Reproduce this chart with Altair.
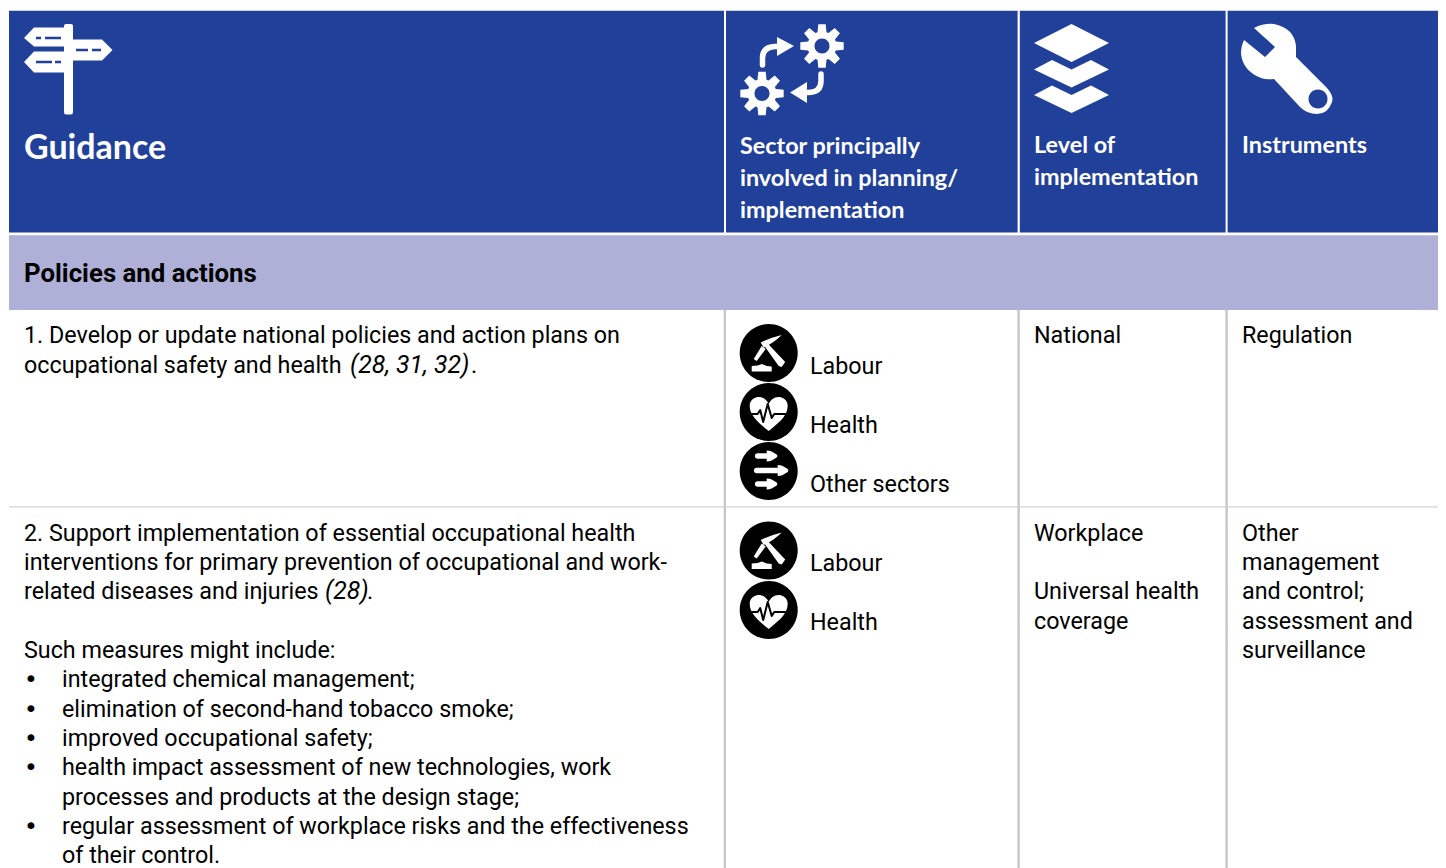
import math
import altair as alt
import pandas as pd

BLUE = "#21409A"
LAV = "#AEB0D8"
GREY = "#C6C6C6"
BLK = "#000000"
WHT = "#FFFFFF"
RIGHT = 1438

# ---------- table frame: x0, x1, y0, y1, fill ----------
cells = [
    (9, 724, 10.7, 232.6, BLUE), (726, 1017.6, 10.7, 232.6, BLUE),
    (1019.8, 1225.6, 10.7, 232.6, BLUE), (1227.6, RIGHT, 10.7, 232.6, BLUE),
    (9, RIGHT, 235.3, 310, LAV),
    (723.7, 726, 310, 868, GREY), (1017.4, 1019.8, 310, 868, GREY),
    (1225.4, 1227.8, 310, 868, GREY), (9, RIGHT, 506.2, 507.6, "#D2D2D2"),
]
rects = pd.DataFrame(cells, columns=["x", "x2", "y", "y2", "fill"])

# ---------- text: x, baseline, text ----------
body_lines = [
    (24, 343, "1. Develop or update national policies and action plans on"),
    (24, 373, "occupational safety and health"),
    (471, 373, "."),
    (24, 541, "2. Support implementation of essential occupational health"),
    (24, 570, "interventions for primary prevention of occupational and work-"),
    (24, 599, "related diseases and injuries"),
    (367, 599, "."),
    (24, 658, "Such measures might include:"),
    (62, 687, "integrated chemical management;"),
    (62, 717, "elimination of second-hand tobacco smoke;"),
    (62, 746, "improved occupational safety;"),
    (62, 775, "health impact assessment of new technologies, work"),
    (62, 805, "processes and products at the design stage;"),
    (62, 834, "regular assessment of workplace risks and the effectiveness"),
    (62, 863, "of their control."),
    (810, 374, "Labour"), (810, 433, "Health"), (810, 492, "Other sectors"),
    (810, 571, "Labour"), (810, 630, "Health"),
    (1034, 343, "National"), (1242, 343, "Regulation"),
    (1034, 541, "Workplace"), (1034, 599, "Universal health"), (1034, 629, "coverage"),
    (1242, 541, "Other"), (1242, 570, "management"), (1242, 599, "and control;"),
    (1242, 629, "assessment and"), (1242, 658, "surveillance"),
]
bullet_lines = [(24, 687, "•"), (24, 717, "•"), (24, 746, "•"), (24, 775, "•"), (24, 834, "•")]
italic_lines = [(350, 373, "(28, 31, 32)"), (325, 599, "(28)")]
bold_lines = [(24, 282, "Policies and actions")]
head_big = [(24, 159, "Guidance")]
head_lines = [
    (740, 154, "Sector principally"), (740, 186, "involved in planning/"),
    (740, 218, "implementation"), (1034, 153, "Level of"),
    (1034, 185, "implementation"), (1242, 153, "Instruments"),
]


# ---------- pictogram outlines, in pixels around an anchor ----------
def poly(pts):
    return "M" + "L".join(f"{a:.2f},{b:.2f}" for a, b in pts) + "Z"


def disc(r):
    return f"M{-r},0A{r},{r} 0 1 1 {r},0A{r},{r} 0 1 1 {-r},0Z"


def gear(ro, ri, n=8):
    pts = []
    step = 2 * math.pi / n
    for k in range(n):
        c = -math.pi / 2 + k * step
        for r, d in ((ri, -0.5), (ro, -0.27), (ro, 0.27), (ri, 0.5)):
            pts.append((r * math.cos(c + d * step * 0.8), r * math.sin(c + d * step * 0.8)))
    return poly(pts)


SIGN_A = poly([(24, 38), (34, 27.5), (66, 27.5), (66, 46.5), (34, 46.5)])
SIGN_B = poly([(70, 39.5), (102, 39.5), (112.5, 50), (102, 60.5), (70, 60.5)])
SIGN_C = poly([(24, 62), (34, 51.5), (66, 51.5), (66, 72.5), (34, 72.5)])
POST = "M64,26Q64,24 66,24L71,24Q73,24 73,26L73,112Q73,114.5 71,114.5L66,114.5Q64,114.5 64,112Z"
SIGN_CUTS = "".join(
    poly([(a, y - 1.2), (b, y - 1.2), (b, y + 1.2), (a, y + 1.2)])
    for a, b, y in [(36, 41, 38), (45, 61, 38), (76, 88, 50), (92, 101, 50), (36, 52, 62), (55, 61, 62)]
)

DIAMOND = poly([(0, -19), (37.5, 0), (0, 19), (-37.5, 0)])
CHEVRON = poly([(-37.5, 0), (-19.5, -9.5), (0, 0), (19.5, -9.5), (37.5, 0), (0, 18)])
WRENCH = ("M1254,28Q1264,23 1274,24Q1294,28 1296,46L1296,57L1327,88Q1334,96 1332,102"
          "Q1328,114 1317,114Q1307,114 1300,107L1274,79Q1266,80 1261,78Q1243,71 1241,54"
          "Q1241,46 1244,40L1265,57L1275,47Z")
PICK_HEAD = "M13,-18Q2,-15.5 -8,-10.5L-5,-5.5Q5,-10 13,-18Z"
PICK_HANDLE = poly([(-5, -8), (-1, -9.5), (16.5, 9), (13, 14), (10, 13)])
PICK_LEG = poly([(-7, -7), (-3, -4), (-12, 8), (-15, 6)])
PICK_FOOT = poly([(-17, 13), (-11, 12.5), (-7, 11), (-2, 13), (3, 13.5), (3, 18.5), (-17, 18.5)])
HEART = ("M0,19C-7,13 -19,5 -19,-6C-19,-13 -13,-15 -10,-15C-5,-15 -2,-12 0,-8"
         "C2,-12 5,-15 10,-15C13,-15 19,-13 19,-6C19,5 7,13 0,19Z")
ECG = "M-18,2L-11,2L-8.5,-2L-5.5,10L-1,-8L3,6L5.5,2L18,2"
PIPE_T = "M-11,-15L0,-15"
PIPE_M = "M-12,-0.5L11,-0.5"
PIPE_B = "M-11,13L0,13"
TIP_T = "M-2,-20.5Q1,-20.5 3,-19.5L8,-16.5Q9.5,-15 8,-13.5L3,-10.5Q1,-9.5 -2,-9.5Z"
TIP_M = "M9,-6Q12,-6 14,-5L19,-2Q20.5,-0.5 19,1L14,4Q12,5 9,5Z"
TIP_B = "M-2,7.5Q1,7.5 3,8.5L8,11.5Q9.5,13 8,14.5L3,17.5Q1,18.5 -2,18.5Z"

# anchor x, anchor y, outline, fill (painted in this order)
fills = [
    (0, 0, SIGN_A, WHT), (0, 0, SIGN_B, WHT), (0, 0, SIGN_C, WHT), (0, 0, POST, WHT), (0, 0, SIGN_CUTS, BLUE),
    (822, 46, gear(22, 14.5), WHT), (822, 46, disc(7.5), BLUE),
    (762, 93.5, gear(22, 14.5), WHT), (762, 93.5, disc(7.5), BLUE),
    (1071.5, 43, DIAMOND, WHT), (1071.5, 69.5, CHEVRON, WHT), (1071.5, 95, CHEVRON, WHT),
    (0, 0, WRENCH, WHT), (1318, 99, disc(9.5), BLUE),
]
for cy, kind in [(353, "L"), (412, "H"), (471, "O"), (550.5, "L"), (610, "H")]:
    fills.append((768.7, cy, disc(29), BLK))
    if kind == "L":
        fills += [(768.7, cy, p, WHT) for p in (PICK_HEAD, PICK_HANDLE, PICK_LEG, PICK_FOOT)]
    elif kind == "H":
        fills.append((768.7, cy, HEART, WHT))
    else:
        fills += [(768.7, cy, p, WHT) for p in (TIP_T, TIP_M, TIP_B)]
fills += [
    (0, 0, poly([(777, 37), (794, 46), (777, 56)]), WHT),
    (0, 0, poly([(807, 82), (790, 92.5), (807, 103)]), WHT),
]
fill_df = pd.DataFrame(fills, columns=["x", "y", "shape", "fill"])

# anchor x, anchor y, outline, colour, line width
strokes = [
    (0, 0, "M762.5,65L762.5,58Q762.5,47 775,46.5L780,46.5", WHT, 5.5),
    (0, 0, "M821,74L821,81Q821,92.5 808,92.5L803,92.5", WHT, 5.5),
]
for cy in (412, 610):
    strokes.append((768.7, cy, ECG, BLK, 2))
for p in (PIPE_T, PIPE_M, PIPE_B):
    strokes.append((768.7, 471, p, WHT, 5.5))
stroke_df = pd.DataFrame(strokes, columns=["x", "y", "shape", "stroke", "sw"])

# ---------- chart ----------
X = alt.X("x:Q", axis=None, scale=alt.Scale(domain=[8, RIGHT], nice=False, zero=False))
Y = alt.Y("y:Q", axis=None, scale=alt.Scale(domain=[8, 868], reverse=True, nice=False, zero=False))

rect_layer = alt.Chart(rects).mark_rect().encode(
    x=X, x2="x2:Q", y=Y, y2="y2:Q", fill=alt.Fill("fill:N", scale=None)
)
fill_layer = alt.Chart(fill_df).mark_point(filled=True, size=4, opacity=1, strokeWidth=0).encode(
    x=X, y=Y, shape=alt.Shape("shape:N", scale=None), fill=alt.Fill("fill:N", scale=None)
)
stroke_layer = alt.Chart(stroke_df).mark_point(
    filled=False, size=4, opacity=1, strokeCap="round", strokeJoin="round"
).encode(
    x=X, y=Y, shape=alt.Shape("shape:N", scale=None),
    stroke=alt.Stroke("stroke:N", scale=None), strokeWidth=alt.StrokeWidth("sw:Q", scale=None),
)


def text_layer(rows, **mark):
    df = pd.DataFrame(rows, columns=["x", "y", "t"])
    return alt.Chart(df).mark_text(align="left", baseline="alphabetic", **mark).encode(x=X, y=Y, text="t:N")


layers = [
    rect_layer, fill_layer, stroke_layer,
    text_layer(body_lines, font="Roboto", fontSize=23.3, color=BLK),
    text_layer(bullet_lines, font="DejaVu Sans", fontSize=23.4, color=BLK),
    text_layer(italic_lines, font="Roboto", fontSize=24.8, fontStyle="italic", color=BLK),
    text_layer(bold_lines, font="Roboto", fontSize=25.8, fontWeight="bold", color=BLK),
    text_layer(head_big, font="Lato", fontSize=34, fontWeight="bold", color=WHT),
    text_layer(head_lines, font="Lato", fontSize=23.4, fontWeight="bold", color=WHT),
]
chart = alt.layer(*layers).properties(
    width=1430, height=860, padding=0, autosize=alt.AutoSizeParams(type="none")
).configure_view(stroke=None)

chart.save("out.html", embed_options={"renderer": "svg", "actions": False})
